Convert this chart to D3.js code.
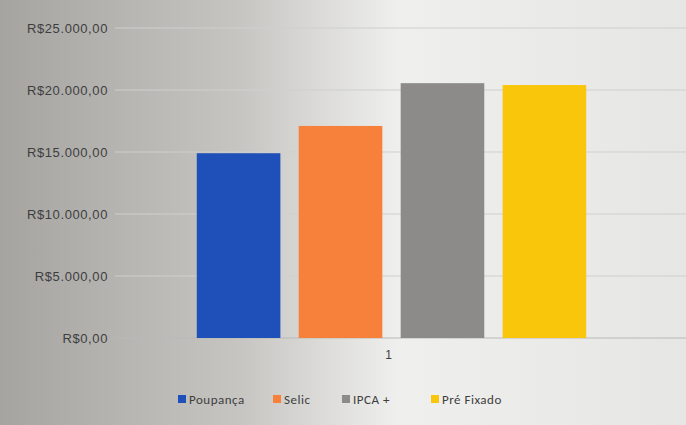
<!DOCTYPE html>
<html>
<head>
<meta charset="utf-8">
<script src="https://cdn.jsdelivr.net/npm/d3@7"></script>
<style>
  body { margin: 0; background: #d6d6d4; }
  svg { display: block; font-family: Calibri, Carlito, "Liberation Sans", sans-serif; }
</style>
</head>
<body>
<div id="viz"></div>
<script>
const categories = ['1'];
const seriesNames = ['Poupança', 'Selic', 'IPCA +', 'Pré Fixado'];
const seriesValues = [14900, 17100, 20550, 20400];
const seriesColors = ['#1f4fb8', '#f7813a', '#8d8b89', '#f9c60c'];
const yTicks = [0, 5000, 10000, 15000, 20000, 25000];

const WIDTH = 686;
const HEIGHT = 425;
const PLOT = { left: 115, right: 668, top: 28, bottom: 338 };

const svg = d3.select('#viz').append('svg')
  .attr('width', WIDTH)
  .attr('height', HEIGHT);

// photo lighting: darker on the left, brighter on the right
const grad = svg.append('defs').append('linearGradient')
  .attr('id', 'bg')
  .attr('x1', '0%').attr('x2', '100%').attr('y1', '0%').attr('y2', '0%');
grad.append('stop').attr('offset', '0%').attr('stop-color', '#a5a4a1');
grad.append('stop').attr('offset', '35%').attr('stop-color', '#c6c5c2');
grad.append('stop').attr('offset', '58%').attr('stop-color', '#efefed');
grad.append('stop').attr('offset', '100%').attr('stop-color', '#e6e6e4');
svg.append('rect')
  .attr('width', WIDTH).attr('height', HEIGHT)
  .attr('fill', 'url(#bg)');

const y = d3.scaleLinear()
  .domain([0, 25000])
  .range([PLOT.bottom, PLOT.top]);

const x0 = d3.scaleBand()
  .domain(categories)
  .range([PLOT.left, PLOT.right])
  .paddingInner(0)
  .paddingOuter(0.21);

const x1 = d3.scaleBand()
  .domain(seriesNames)
  .range([0, x0.bandwidth()])
  .paddingInner(0.18);

const fmt = v => 'R$' + (v === 0 ? '0,00'
  : d3.format(',')(v).replace(/,/g, '.') + ',00');

// gridlines
svg.append('g')
  .selectAll('line')
  .data(yTicks)
  .join('line')
    .attr('x1', PLOT.left)
    .attr('x2', WIDTH)
    .attr('y1', d => y(d))
    .attr('y2', d => y(d))
    .attr('stroke', d => d === 0 ? '#b9b9b7' : '#cfcfcd')
    .attr('stroke-width', 1);

// y axis labels
const yAxis = d3.axisLeft(y)
  .tickValues(yTicks)
  .tickFormat(fmt)
  .tickSize(0)
  .tickPadding(7);
svg.append('g')
  .attr('transform', `translate(${PLOT.left},0)`)
  .call(yAxis)
  .call(g => g.select('.domain').remove())
  .call(g => g.selectAll('text')
    .attr('fill', '#3e3e3e')
    .attr('font-size', '13px')
    .attr('letter-spacing', '0.6px'));

// bars
const groups = svg.append('g')
  .selectAll('g')
  .data(categories)
  .join('g')
    .attr('transform', d => `translate(${x0(d)},0)`);

groups.selectAll('rect')
  .data(() => seriesNames.map((name, i) => ({ name, value: seriesValues[i], color: seriesColors[i] })))
  .join('rect')
    .attr('x', d => x1(d.name))
    .attr('y', d => y(d.value))
    .attr('width', x1.bandwidth())
    .attr('height', d => y(0) - y(d.value))
    .attr('fill', d => d.color);

// x axis label
const xAxis = d3.axisBottom(x0).tickSize(0).tickPadding(12);
svg.append('g')
  .attr('transform', `translate(-3,${PLOT.bottom})`)
  .call(xAxis)
  .call(g => g.select('.domain').remove())
  .call(g => g.selectAll('text')
    .attr('fill', '#3e3e3e')
    .attr('font-size', '12px'));

// legend
const legendX = [178, 273, 342, 431];
const legend = svg.append('g')
  .attr('transform', 'translate(0,399)');
const item = legend.selectAll('g')
  .data(seriesNames)
  .join('g')
    .attr('transform', (d, i) => `translate(${legendX[i]},0)`);
item.append('rect')
  .attr('x', 0).attr('y', -4)
  .attr('width', 8).attr('height', 8)
  .attr('fill', (d, i) => seriesColors[i]);
item.append('text')
  .attr('x', 11).attr('y', 4.5)
  .attr('fill', '#3e3e3e')
  .attr('font-size', '13px')
  .attr('letter-spacing', '0.5px')
  .text(d => d);
</script>
</body>
</html>
